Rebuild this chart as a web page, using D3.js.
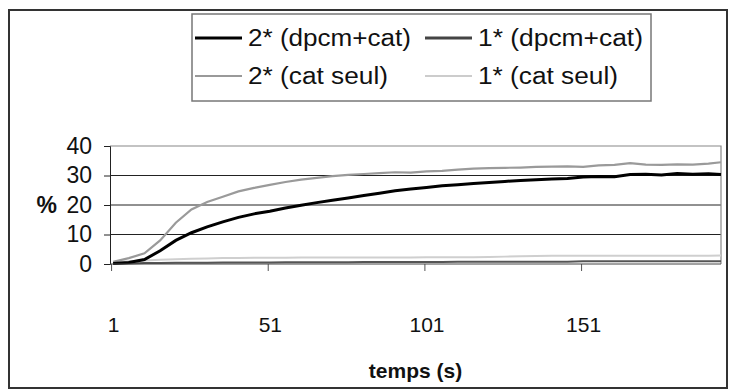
<!DOCTYPE html>
<html><head><meta charset="utf-8">
<script src="https://cdn.jsdelivr.net/npm/d3@7/dist/d3.min.js"></script>
<style>
body{margin:0;background:#fff;}
svg text{font-family:"Liberation Sans",Arial,sans-serif;fill:#111;}
</style></head>
<body><svg id="c" width="732" height="391"></svg>
<script>
// time (s)
const temps = [1,6,11,16,21,26,31,36,41,46,51,56,61,66,71,76,81,86,91,96,101,106,111,116,121,126,131,136,141,146,151,156,161,166,171,176,181,186,191,195];
const s2dpcm = [0.2,0.5,1.5,4.5,8.0,10.6,12.6,14.3,15.8,17.0,17.9,19.0,19.9,20.8,21.6,22.4,23.2,24.0,24.8,25.4,25.9,26.5,26.9,27.3,27.6,28.0,28.3,28.6,28.8,29.0,29.5,29.7,29.6,30.3,30.4,30.2,30.7,30.4,30.6,30.3];
const s1dpcm = [0.1,0.2,0.3,0.3,0.4,0.4,0.4,0.5,0.5,0.5,0.5,0.6,0.6,0.6,0.6,0.6,0.7,0.7,0.7,0.7,0.7,0.7,0.8,0.8,0.8,0.8,0.8,0.8,0.8,0.8,0.9,0.9,0.9,0.9,0.9,0.9,0.9,0.9,0.9,0.9];
const s2cat = [0.7,2.0,3.6,8.0,14.0,18.5,21.0,22.8,24.6,25.8,26.8,27.8,28.6,29.2,29.8,30.2,30.5,30.8,31.1,31.0,31.4,31.6,32.0,32.3,32.5,32.6,32.7,32.9,33.0,33.1,32.9,33.4,33.6,34.2,33.7,33.6,33.8,33.7,34.0,34.5];
const s1cat = [0.6,0.9,1.2,1.4,1.6,1.8,1.9,2.0,2.0,2.1,2.1,2.1,2.2,2.2,2.2,2.2,2.2,2.2,2.2,2.2,2.3,2.3,2.3,2.3,2.4,2.5,2.6,2.7,2.8,2.8,2.8,2.8,2.8,2.8,2.8,2.8,2.8,2.8,2.8,2.9];
const seriesNames = ["2* (dpcm+cat)","1* (dpcm+cat)","2* (cat seul)","1* (cat seul)"];
const xTicks = [1,51,101,151];
const yTicks = [0,10,20,30,40];

const svg = d3.select("#c");
const x = d3.scaleLinear().domain([0,195]).range([110,721]);
const y = d3.scaleLinear().domain([0,40]).range([264,146]);

// outer frame
svg.append("rect").attr("x",9).attr("y",10).attr("width",718).attr("height",378)
  .attr("fill","#fff").attr("stroke","#333").attr("stroke-width",2);

// gridlines
svg.append("g").selectAll("line").data([10,20,30]).join("line")
  .attr("x1",x(0)).attr("x2",x(195)).attr("y1",d=>y(d)).attr("y2",d=>y(d))
  .attr("stroke","#222").attr("stroke-width",1);
// plot border top & right
svg.append("path").attr("d",`M${x(0)},${y(40)}H${x(195)}V${y(0)}`)
  .attr("fill","none").attr("stroke","#888").attr("stroke-width",1.2);

// y axis
const yAxis = d3.axisLeft(y).tickValues(yTicks).tickSize(6).tickPadding(12);
const gy = svg.append("g").attr("transform",`translate(${x(0)},0)`).call(yAxis);
gy.select(".domain").attr("stroke","#222");
gy.selectAll(".tick line").attr("stroke","#222");
gy.selectAll("text").attr("font-size",23).attr("fill","#111");
svg.append("text").attr("x",57).attr("y",y(20)).attr("dy","0.35em").attr("text-anchor","end")
  .attr("font-size",23).attr("font-weight","bold").text("%");

// x axis
const xAxis = d3.axisBottom(x).tickValues(xTicks).tickSize(0).tickPadding(53).tickFormat(d3.format("d"));
const gx = svg.append("g").attr("transform",`translate(0,${y(0)})`).call(xAxis);
gx.select(".domain").remove();
gx.selectAll("text").attr("font-size",21).attr("fill","#222");
svg.append("g").selectAll("line").data([0.5,50.5,100.5,150.5]).join("line")
  .attr("x1",d=>x(d)).attr("x2",d=>x(d)).attr("y1",y(0)).attr("y2",y(0)+7)
  .attr("stroke","#555").attr("stroke-width",1);
svg.append("text").attr("x",(x(0)+x(195))/2).attr("y",378).attr("text-anchor","middle")
  .attr("font-size",21).attr("font-weight","bold").attr("fill","#222").text("temps (s)");

// series
const series = [
  {name:seriesNames[3], v:s1cat, c:"#cfcfcf", w:2},
  {name:seriesNames[1], v:s1dpcm, c:"#555", w:2},
  {name:seriesNames[2], v:s2cat, c:"#9a9a9a", w:2.2},
  {name:seriesNames[0], v:s2dpcm, c:"#000", w:3}
];
const line = d3.line().x(d=>x(d[0])).y(d=>y(d[1]));
svg.append("g").selectAll("path").data(series).join("path")
  .attr("d",s=>line(temps.map((t,i)=>[t,s.v[i]])))
  .attr("fill","none").attr("stroke",s=>s.c).attr("stroke-width",s=>s.w);
// x axis baseline
svg.append("line").attr("x1",x(0)).attr("x2",x(195)).attr("y1",y(0)).attr("y2",y(0))
  .attr("stroke","#444").attr("stroke-width",1);

// legend
svg.append("rect").attr("x",192).attr("y",14).attr("width",459).attr("height",87)
  .attr("fill","#fff").attr("stroke","#777").attr("stroke-width",1.5);
const leg = [
  {name:seriesNames[0], c:"#000", w:3, lx:195, ly:38, tl:163},
  {name:seriesNames[1], c:"#444", w:3, lx:425, ly:38, tl:165},
  {name:seriesNames[2], c:"#999", w:2, lx:195, ly:76, tl:140},
  {name:seriesNames[3], c:"#ccc", w:2, lx:425, ly:76, tl:140}
];
const lg = svg.append("g").selectAll("g").data(leg).join("g");
lg.append("line").attr("x1",d=>d.lx).attr("x2",d=>d.lx+47).attr("y1",d=>d.ly).attr("y2",d=>d.ly)
  .attr("stroke",d=>d.c).attr("stroke-width",d=>d.w);
lg.append("text").attr("x",d=>d.lx+53).attr("y",d=>d.ly).attr("dy","0.35em")
  .attr("font-size",23).attr("textLength",d=>d.tl).attr("lengthAdjust","spacingAndGlyphs")
  .attr("fill","#111").text(d=>d.name);
</script></body></html>
